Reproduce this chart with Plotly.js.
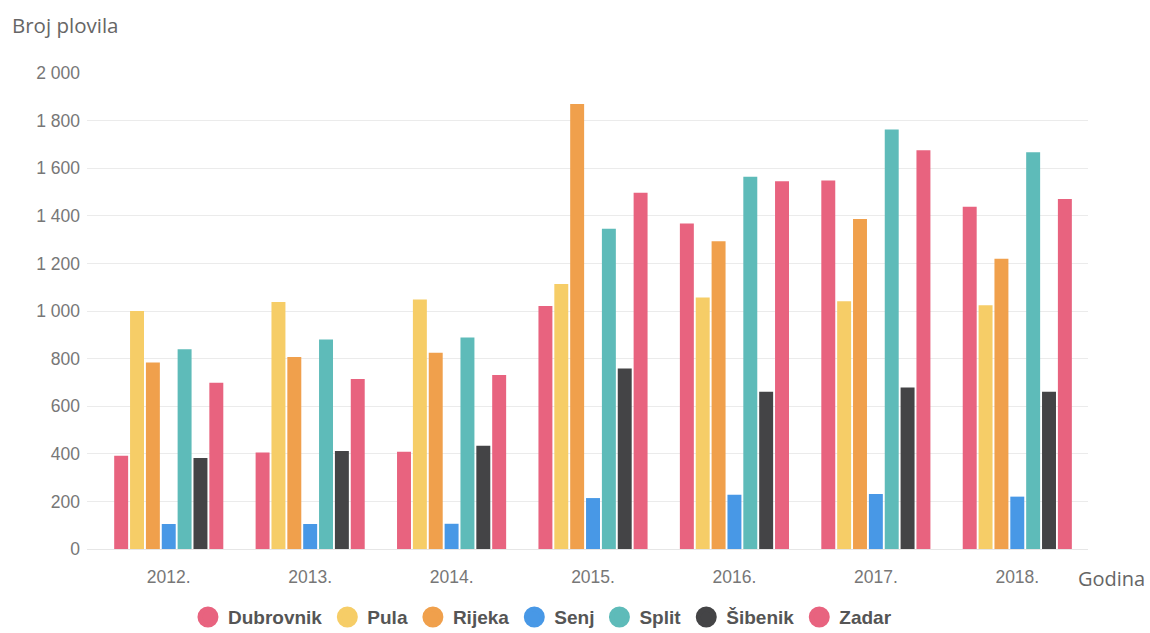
<!DOCTYPE html>
<html>
<head>
<meta charset="utf-8">
<script src="https://cdn.plot.ly/plotly-3.0.1.min.js"></script>
<style>html,body{margin:0;padding:0;background:#fff;}#chart{width:1150px;height:633px;}</style>
</head>
<body>
<div id="chart"></div>
<script>
const years = ["2012.", "2013.", "2014.", "2015.", "2016.", "2017.", "2018."];
const seriesNames = ["Dubrovnik", "Pula", "Rijeka", "Senj", "Split", "Šibenik", "Zadar"];
const dubrovnik = [392, 405, 409, 1021, 1368, 1548, 1438];
const pula      = [1000, 1038, 1048, 1113, 1057, 1041, 1024];
const rijeka    = [784, 807, 825, 1870, 1293, 1387, 1220];
const senj      = [105, 105, 106, 214, 228, 231, 220];
const split     = [839, 880, 889, 1346, 1564, 1763, 1667];
const sibenik   = [382, 412, 434, 758, 661, 679, 661];
const zadar     = [699, 714, 731, 1497, 1545, 1675, 1471];
const yTicks = [0, 200, 400, 600, 800, 1000, 1200, 1400, 1600, 1800, 2000];
const colors = ["#e8637f", "#f6cd67", "#f0a04c", "#4898e6", "#5ebbb9", "#444446", "#e8637f"];
const values = [dubrovnik, pula, rijeka, senj, split, sibenik, zadar];

const traces = [];
values.forEach((v, i) => {
  traces.push({
    type: "bar", x: years, y: v, name: seriesNames[i],
    marker: {color: colors[i]}, showlegend: false,
    hovertemplate: "%{x} " + seriesNames[i] + ": %{y}<extra></extra>"
  });
});
values.forEach((v, i) => {
  traces.push({
    type: "scatter", mode: "markers", x: [null], y: [null], name: seriesNames[i],
    marker: {color: colors[i], size: 20, symbol: "circle", line: {color: colors[i], width: 8}},
    showlegend: true
  });
});

const layout = {
  width: 1150, height: 633,
  margin: {l: 87, r: 62, t: 73, b: 84},
  paper_bgcolor: "#fff", plot_bgcolor: "#fff",
  separators: ". ",
  barmode: "group", bargap: 0.215, bargroupgap: 0.12,
  font: {family: "Liberation Sans, Arial, sans-serif", size: 14, color: "#777"},
  xaxis: {
    type: "category", range: [-0.578, 6.5], showgrid: false, zeroline: false,
    showline: true, linecolor: "#e6e6e6", linewidth: 1,
    ticks: "", tickfont: {size: 17.5, color: "#777"}, ticklabelstandoff: 12
  },
  yaxis: {
    range: [0, 2000], tickvals: yTicks,
    tickformat: ",d", showgrid: true, gridcolor: "#ebebeb", gridwidth: 1,
    zeroline: false, showline: false, ticks: "",
    tickfont: {size: 17.5, color: "#777"}, ticklabelstandoff: 6
  },
  legend: {
    orientation: "h", x: 0.455, xanchor: "center",
    yref: "container", y: 0.025, yanchor: "middle",
    font: {family: "Liberation Sans, Arial, sans-serif", size: 19, color: "#555", weight: "bold"},
    itemwidth: 30, tracegroupgap: 0, traceorder: "normal"
  },
  annotations: [
    {text: "Broj plovila", xref: "paper", yref: "paper", x: -0.077, y: 1.1008,
     xanchor: "left", yanchor: "middle", showarrow: false,
     font: {family: "Open Sans, sans-serif", size: 20.5, color: "#666"}},
    {text: "Godina", xref: "paper", yref: "paper", x: 0.988, y: -0.061,
     xanchor: "left", yanchor: "middle", showarrow: false,
     font: {family: "Open Sans, sans-serif", size: 20, color: "#666"}}
  ]
};

Plotly.newPlot("chart", traces, layout, {displayModeBar: false, staticPlot: true});
</script>
</body>
</html>
